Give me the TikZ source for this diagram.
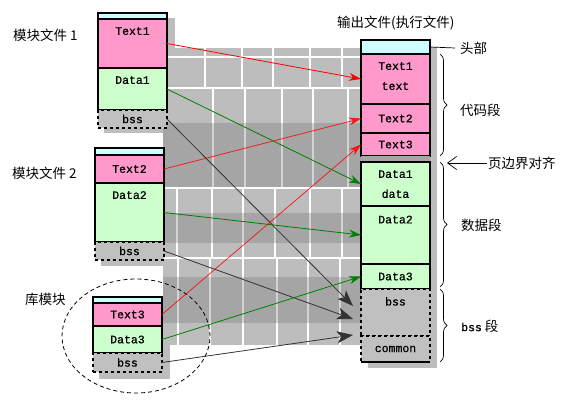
\documentclass[tikz,border=0pt]{standalone}
\usepackage{fontspec}
\usepackage{tikz}
\usetikzlibrary{arrows.meta, positioning, calc, decorations.pathreplacing, shapes.geometric}
\newfontfamily\cjk{Noto Sans CJK SC}
\newfontfamily\boxfont[FakeBold=0.6]{Liberation Mono}
\definecolor{segpink}{HTML}{FF99CC}
\definecolor{seggreen}{HTML}{CCFFCC}
\definecolor{segcyan}{HTML}{CCFFFF}
\definecolor{seggray}{HTML}{C0C0C0}
\definecolor{chk}{HTML}{BDBDBD}
\definecolor{chkdark}{HTML}{6E6E6E}
\definecolor{linkgreen}{HTML}{008000}
\definecolor{linkgray}{HTML}{333333}

\tikzset{
  seg/.style={draw=black, line width=1.2pt, anchor=north west, minimum width=69pt, inner sep=0pt, outer sep=0pt, font=\fontsize{11.5}{12}\selectfont\boxfont},
  bssseg/.style={seg, fill=seggray, dashed},
  toptxt/.style={anchor=north, inner sep=0pt, yshift=-8pt, align=center, font=\fontsize{11.5}{20}\selectfont\boxfont},
  cnlbl/.style={anchor=west, inner sep=0pt, font=\fontsize{13.5}{15}\selectfont\cjk},
  txtlink/.style={red, line width=0.8pt, -{Stealth[length=12pt,width=8pt]}},
  datlink/.style={linkgreen, line width=0.8pt, -{Stealth[length=12pt,width=8pt]}},
  bsslink/.style={linkgray, line width=0.8pt, -{Stealth[length=16pt,width=12pt,inset=4pt]}},
  gridln/.style={white, line width=1.1pt},
  segbrace/.style={decorate, decoration={brace, amplitude=7pt}, line width=0.7pt}
}

\begin{document}
\begin{tikzpicture}[x=1pt, y=-1pt]
  \useasboundingbox (0,0) rectangle (567,403);

  % Checkered background between the columns
  \fill[chk] (163,48) rectangle (362,345);
  \fill[chk] (104,18) rectangle (175,133);
  \fill[chk] (101,153) rectangle (170,266);
  \fill[chk] (99,302) rectangle (170,379);
  \fill[chk] (368,47) rectangle (437,368);
  \foreach \y in {57,88,188,258} \draw[gridln] (163,\y) -- (362,\y);
  \foreach \x in {205,242,273,310,342} \draw[gridln] (\x,48) -- (\x,88);
  \foreach \x in {213,245,282,313,348} \draw[gridln] (\x,88) -- (\x,188);
  \foreach \x in {177,212,243,275,310,342} \draw[gridln] (\x,188) -- (\x,258);
  \foreach \x in {178,210,243,277,308,340} \draw[gridln] (\x,258) -- (\x,345);
  \fill[chkdark, opacity=0.3] (163,123) rectangle (362,187);
  \fill[chkdark, opacity=0.3] (163,213) rectangle (362,243);
  \fill[chkdark, opacity=0.3] (163,277) rectangle (362,323);

  % Module file 1
  \node[seg, fill=segcyan, minimum height=6pt] (m1head) at (98,13) {};
  \node[seg, fill=segpink, minimum height=49pt, label={[toptxt]north:Text1}] (m1text) at (98,19) {};
  \node[seg, fill=seggreen, minimum height=42pt, label={[toptxt]north:Data1}] (m1data) at (98,68) {};
  \node[bssseg, minimum height=18pt] (m1bss) at (98,110) {bss};

  % Module file 2
  \node[seg, fill=segcyan, minimum height=7pt] (m2head) at (95,148) {};
  \node[seg, fill=segpink, minimum height=28pt] (m2text) at (95,155) {Text2};
  \node[seg, fill=seggreen, minimum height=59pt, label={[toptxt]north:Data2}] (m2data) at (95,183) {};
  \node[bssseg, minimum height=18pt] (m2bss) at (95,242) {bss};

  % Library module
  \node[seg, fill=segcyan, minimum height=6pt] (libhead) at (93,297) {};
  \node[seg, fill=segpink, minimum height=23pt] (libtext) at (93,303) {Text3};
  \node[seg, fill=seggreen, minimum height=27pt] (libdata) at (93,326) {Data3};
  \node[bssseg, minimum height=19pt] (libbss) at (93,353) {bss};
  \node[draw, dashed, ellipse, line width=0.8pt, dash pattern=on 4pt off 3pt, minimum width=148pt, minimum height=114pt, inner sep=0pt] (libring) at (136,336) {};

  % Output (executable) file
  \node[seg, fill=segcyan, minimum height=14pt] (ohead) at (361,40) {};
  \node[seg, fill=segpink, minimum height=50pt, label={[toptxt]north:Text1\\text}] (otext1) at (361,54) {};
  \node[seg, fill=segpink, minimum height=29pt] (otext2) at (361,104) {Text2};
  \node[seg, fill=segpink, minimum height=23pt] (otext3) at (361,133) {Text3};
  \node[seg, draw=none, fill=gray!70, minimum height=6pt] (ogap) at (361,156) {};
  \node[seg, fill=seggreen, minimum height=44pt, label={[toptxt]north:Data1\\data}] (odata1) at (361,162) {};
  \node[seg, fill=seggreen, minimum height=58pt, label={[toptxt, yshift=-1.5pt]north:Data2}] (odata2) at (361,206) {};
  \node[seg, fill=seggreen, minimum height=25pt] (odata3) at (361,264) {Data3};
  \node[bssseg, minimum height=47pt, label={[toptxt]north:bss}] (obss) at (361,289) {};
  \node[bssseg, minimum height=26pt] (ocommon) at (361,336) {common};
  \draw[line width=1.2pt] (ocommon.south west) -- (ocommon.south east);

  % Links from the input sections
  \draw[txtlink] (m1text.east) -- (otext1.west);
  \draw[datlink] (m1data.east) -- (odata1.west);
  \draw[bsslink] (m1bss.east) -- ([xshift=-8pt,yshift=6.5pt]obss.west);
  \draw[txtlink, opacity=0.8] (m2text.east) -- (otext2.west);
  \draw[datlink] (m2data.east) -- (odata2.west);
  \draw[bsslink] (m2bss.east) -- ([xshift=-8pt,yshift=-6.5pt]obss.west);
  \draw[txtlink, opacity=0.8] (libtext.east) -- (otext3.west);
  \draw[datlink] (libdata.east) -- (odata3.west);
  \draw[bsslink] (libbss.east) -- ([xshift=-8pt,yshift=-22.5pt]obss.west);

  % Labels
  \node[cnlbl] (m1lbl) at (13,35) {模块文件 1};
  \node[cnlbl] (m2lbl) at (12,173) {模块文件 2};
  \node[cnlbl] (liblbl) at (25,299) {库模块};
  \node[cnlbl] (outlbl) at (337,23) {输出文件(执行文件)};
  \node[cnlbl] (headlbl) at (460,48) {头部};
  \draw[line width=0.7pt] (ohead.east) -- ([xshift=-5pt]headlbl.west);

  % Segment braces
  \draw[segbrace] ([xshift=10pt]otext1.north east) -- ([xshift=10pt]otext3.south east);
  \node[cnlbl] (codelbl) at (460,110) {代码段};
  \draw[segbrace] ([xshift=10pt]odata1.north east) -- ([xshift=10pt,yshift=2pt]odata3.south east);
  \node[cnlbl] (datalbl) at (461,225) {数据段};
  \draw[segbrace] ([xshift=10pt]obss.north east) -- ([xshift=10pt]ocommon.south east);
  \node[cnlbl] (bsslbl) at (461,326) {{\fontsize{11.5}{12}\selectfont\boxfont bss}~段};

  % Page alignment pointer
  \node[cnlbl] (alignlbl) at (488,163) {页边界对齐};
  \coordinate (alignpt) at (447,163);
  \draw[line width=0.7pt, -{Straight Barb[length=9pt,width=13pt]}] ([xshift=-1pt]alignlbl.west) -- (alignpt);
\end{tikzpicture}
\end{document}
